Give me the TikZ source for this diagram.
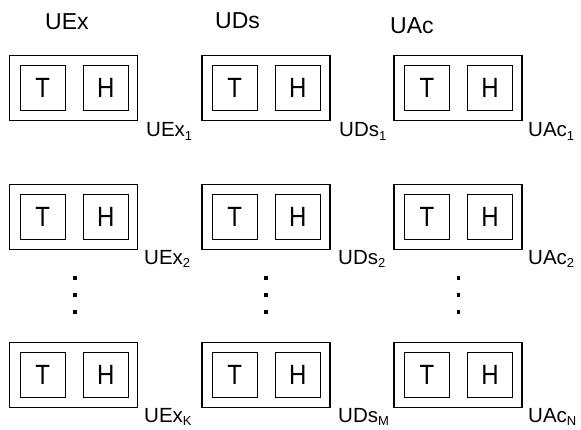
\documentclass[tikz,border=0pt]{standalone}
\usepackage{fontspec}
\setmainfont{Liberation Sans}
\usetikzlibrary{calc}
\begin{document}
\begin{tikzpicture}[x=1pt,y=-1pt,
  outerbox/.style={draw,line width=1.5pt,minimum width=128pt,minimum height=65pt,inner sep=0pt},
  innerbox/.style={draw,line width=1.2pt,minimum size=45pt,inner sep=0pt,font=\fontsize{24}{24}\selectfont},
  header/.style={anchor=base west,inner sep=0pt,font=\fontsize{23}{23}\selectfont},
  lab/.style={anchor=base west,inner sep=0pt,font=\fontsize{20.5}{20.5}\selectfont},
  dot/.style={fill,inner sep=0pt,minimum size=3.2pt}]
\useasboundingbox (0,0) rectangle (581,430);
\newcommand{\sbx}[1]{{\fontsize{13}{13}\selectfont\raisebox{-3.5pt}{#1}}}
\newcommand{\tall}[1]{\scalebox{1}[1.16]{#1}}
% headers
\node[header] (hEx) at (45,29.3) {UEx};
\node[header] (hDs) at (215,28.3) {UDs};
\node[header] (hAc) at (390,33.3) {UAc};
% boxes
\foreach \c/\cx in {1/73.7,2/265.8,3/458}{
  \foreach \r/\ry in {1/88.2,2/216.9,3/375}{
    \node[outerbox] (o\c\r) at (\cx,\ry) {};
    \node[innerbox] (t\c\r) at ($(o\c\r)+(-31,0)$) {\tall{T}};
    \node[innerbox] (h\c\r) at ($(o\c\r)+(32,0)$) {\tall{H}};
  }
}
% labels
\node[lab] (l11) at (146,136.7) {UEx\sbx{1}};
\node[lab] (l12) at (144,264.5) {UEx\sbx{2}};
\node[lab] (l13) at (144,422) {UEx\sbx{K}};
\node[lab] (l21) at (339,136.7) {UDs\sbx{1}};
\node[lab] (l22) at (338,264.5) {UDs\sbx{2}};
\node[lab] (l23) at (338,422) {UDs\sbx{M}};
\node[lab] (l31) at (528,136.7) {UAc\sbx{1}};
\node[lab] (l32) at (528,264.5) {UAc\sbx{2}};
\node[lab] (l33) at (528,422) {UAc\sbx{N}};
% dots
\foreach \c/\cx in {1/75,2/266,3/458.3}{
  \foreach \d/\dy in {1/278,2/295,3/312}{
    \node[dot] (d\c\d) at (\cx,\dy) {};
  }
}
\end{tikzpicture}
\end{document}
